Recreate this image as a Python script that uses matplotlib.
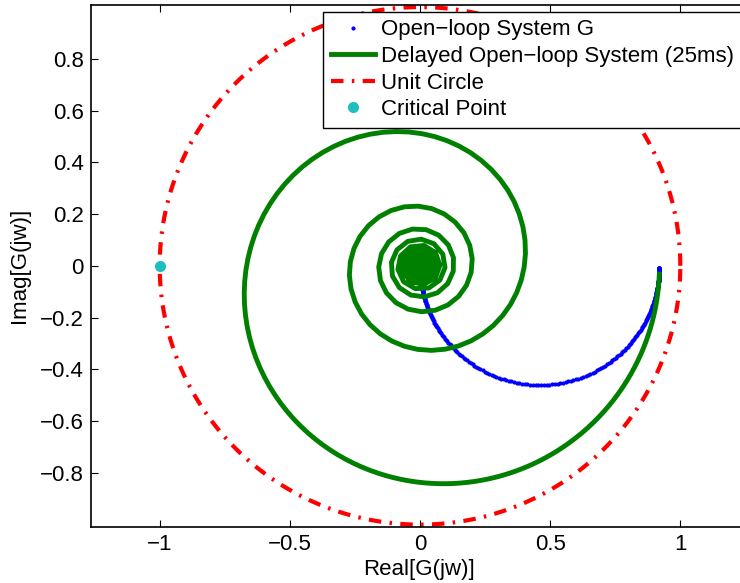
import numpy as np
import matplotlib
matplotlib.use("Agg")
import matplotlib.pyplot as plt

plt.rcParams['font.family'] = ['Liberation Sans', 'DejaVu Sans']

# first order plant G(s) = K / (T s + 1), plus a pure transport delay
K = 0.92
T = 0.01
delay = 0.025
w = np.logspace(0, 4, 400)          # rad/s, 100 points per decade

x_ticks = [-1, -0.5, 0, 0.5, 1]
x_labels = ['\u22121', '\u22120.5', '0', '0.5', '1']
y_ticks = [-0.8, -0.6, -0.4, -0.2, 0, 0.2, 0.4, 0.6, 0.8]
y_labels = ['\u22120.8', '\u22120.6', '\u22120.4', '\u22120.2', '0',
            '0.2', '0.4', '0.6', '0.8']

critical = (-1, 0)

G = K / (1 + 1j * w * T)
Gd = G * np.exp(-1j * w * delay)
theta = np.linspace(0, 2 * np.pi, 500)

fig = plt.figure(figsize=(7.4, 5.83), dpi=100)
ax = fig.add_axes([90.7 / 740, (583 - 526.7) / 583,
                   (748 - 90.7) / 740, (526.7 - 5) / 583])

ax.plot(G.real, G.imag, '.', color='blue', markersize=4,
        label='Open\u2212loop System G')
ax.plot(Gd.real, Gd.imag, '-', color='#008000', linewidth=3.5,
        label='Delayed Open\u2212loop System (25ms)')
ax.plot(np.cos(theta), np.sin(theta), color='red', linewidth=3,
        linestyle=(0, (3, 2, 0.6, 2)), label='Unit Circle')
ax.plot(critical[0], critical[1], 'o', color='#1fbfbf', markersize=7,
        label='Critical Point')

fs = 16
ax.set_xlim(-1.265, 1.26)
ax.set_ylim(-1.008, 1.008)
ax.set_xticks(x_ticks)
ax.set_xticklabels(x_labels)
ax.set_yticks(y_ticks)
ax.set_yticklabels(y_labels)
ax.tick_params(direction='in', length=5, width=0.8, labelsize=fs,
               top=True, right=True, pad=5)
for s in ax.spines.values():
    s.set_linewidth(1.2)

ax.set_xlabel('Real[G(jw)]', fontsize=fs, labelpad=3)
ax.set_ylabel('Imag[G(jw)]', fontsize=fs, labelpad=7)

leg = ax.legend(loc='upper right', fontsize=fs, fancybox=False,
                edgecolor='black', framealpha=1, handlelength=2.0,
                handletextpad=0.25, labelspacing=0.25, borderpad=0.35,
                borderaxespad=0.3, markerscale=1)
leg.get_frame().set_linewidth(1.0)

fig.savefig('out.png', dpi=100)
